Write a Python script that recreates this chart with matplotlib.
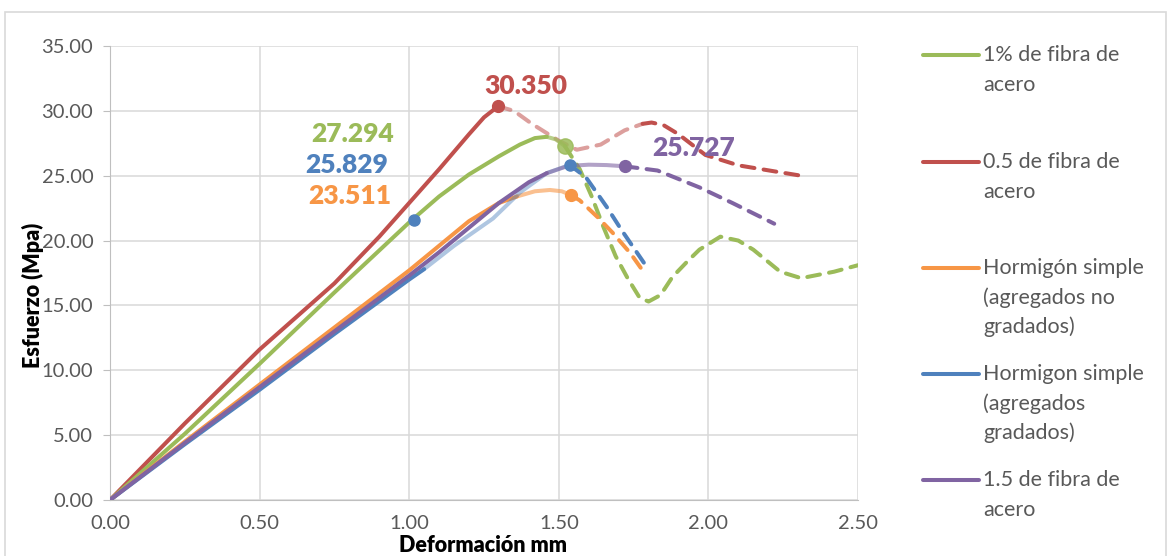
import matplotlib
matplotlib.use("Agg")
import matplotlib.pyplot as plt
from matplotlib.lines import Line2D
from matplotlib.patches import Rectangle
from matplotlib.ticker import MultipleLocator, FormatStrFormatter

plt.rcParams['font.family'] = ['Lato', 'DejaVu Sans']

# ---- datos ----
# 0.5 de fibra de acero (rojo)
rojo_x = [0, 0.25, 0.5, 0.75, 0.9, 1.0, 1.1, 1.2, 1.25, 1.297]
rojo_y = [0, 5.9, 11.6, 16.7, 20.3, 22.9, 25.5, 28.2, 29.5, 30.35]
rojo_cl_x = [1.297, 1.35, 1.41, 1.50, 1.56, 1.64, 1.72, 1.78]
rojo_cl_y = [30.35, 30.0, 29.0, 27.7, 27.0, 27.4, 28.5, 29.0]
rojo_d_x = [1.78, 1.81, 1.85, 1.90, 1.99, 2.10, 2.23, 2.31]
rojo_d_y = [29.0, 29.1, 28.9, 28.2, 26.6, 25.8, 25.3, 25.0]

# 1% de fibra de acero (verde)
verde_x = [0, 0.25, 0.5, 0.75, 1.0, 1.1, 1.2, 1.3, 1.37, 1.42, 1.46]
verde_y = [0, 5.1, 10.5, 16.0, 21.4, 23.4, 25.1, 26.5, 27.4, 27.9, 28.0]
verde_cl_x = [1.46, 1.49, 1.52]
verde_cl_y = [28.0, 27.8, 27.294]
verde_d_x = [1.52, 1.57, 1.61, 1.65, 1.69, 1.73, 1.77, 1.80, 1.84, 1.88,
             1.93, 1.97, 2.04, 2.10, 2.15, 2.24, 2.31, 2.42, 2.50]
verde_d_y = [27.294, 25.5, 23.4, 21.0, 18.8, 17.1, 15.6, 15.3, 15.8, 17.2,
             18.4, 19.3, 20.3, 20.0, 19.3, 17.6, 17.1, 17.6, 18.1]

# Hormigon simple agregados no gradados (naranja)
nar_x = [0, 0.25, 0.5, 0.75, 1.0, 1.1, 1.2, 1.3, 1.36]
nar_y = [0, 4.5, 8.9, 13.3, 17.7, 19.6, 21.5, 22.9, 23.4]
nar_cl_x = [1.36, 1.42, 1.47, 1.51, 1.54]
nar_cl_y = [23.4, 23.8, 23.9, 23.8, 23.511]
nar_d_x = [1.54, 1.57, 1.63, 1.68, 1.74, 1.78]
nar_d_y = [23.511, 23.1, 21.8, 20.6, 19.0, 17.7]

# Hormigon simple agregados gradados (azul)
azul_x = [0, 0.25, 0.5, 0.75, 1.0, 1.05]
azul_y = [0, 4.3, 8.5, 12.8, 17.0, 17.8]
azul_cl_x = [1.05, 1.15, 1.28, 1.37, 1.46, 1.536]
azul_cl_y = [17.8, 19.6, 21.7, 23.7, 25.2, 25.829]
azul_d_x = [1.536, 1.59, 1.66, 1.71, 1.79]
azul_d_y = [25.829, 24.9, 22.6, 20.8, 18.1]
azul_pt_x = [1.016, 1.536]
azul_pt_y = [21.6, 25.829]

# 1.5 de fibra de acero (morado)
mor_x = [0, 0.25, 0.5, 0.75, 1.0, 1.1, 1.2, 1.3, 1.4, 1.46]
mor_y = [0, 4.4, 8.7, 13.0, 17.3, 19.1, 21.0, 22.9, 24.5, 25.2]
mor_cl_x = [1.46, 1.53, 1.6, 1.66, 1.72]
mor_cl_y = [25.2, 25.75, 25.85, 25.82, 25.727]
mor_d_x = [1.72, 1.83, 1.97, 2.08, 2.22]
mor_d_y = [25.727, 25.4, 24.1, 22.9, 21.3]

# etiquetas de pico
pico_txt = ["30.350", "27.294", "25.829", "23.511", "25.727"]
pico_x = [1.39, 0.81, 0.79, 0.80, 1.95]
pico_y = [31.9, 28.2, 25.8, 23.4, 27.1]

series = ["1% de fibra de\nacero", "0.5 de fibra de\nacero",
          "Hormigón simple\n(agregados no\ngradados)",
          "Hormigon simple\n(agregados\ngradados)", "1.5 de fibra de\nacero"]

VERDE = "#9BBB59"
ROJO = "#C0504D"
NAR = "#F79646"
AZUL = "#4F81BD"
MOR = "#8064A2"
colores = [VERDE, ROJO, NAR, AZUL, MOR]

W, H = 1169, 556
fig = plt.figure(figsize=(W / 100, H / 100), dpi=100)
ax = fig.add_axes([110 / W, 1 - 500 / H, (858 - 110) / W, (500 - 46) / H])

lw = 2.9
dash = (3.2, 2.3)

def solido(x, y, c, a=1.0, z=3):
    ax.plot(x, y, color=c, lw=lw, alpha=a, solid_capstyle='round',
            solid_joinstyle='round', zorder=z)

def rayado(x, y, c, a=1.0, z=3):
    ax.plot(x, y, color=c, lw=lw, alpha=a, ls=(0, dash),
            dash_capstyle='round', dash_joinstyle='round', zorder=z)

# rojo
solido(rojo_x, rojo_y, ROJO)
rayado(rojo_cl_x, rojo_cl_y, ROJO, 0.55)
rayado(rojo_d_x, rojo_d_y, ROJO)
# verde
solido(verde_x, verde_y, VERDE)
solido(verde_cl_x, verde_cl_y, VERDE, 0.7)
rayado(verde_d_x, verde_d_y, VERDE)
# naranja
solido(nar_x, nar_y, NAR)
solido(nar_cl_x, nar_cl_y, NAR, 0.6)
rayado(nar_d_x, nar_d_y, NAR)
# azul
solido(azul_x, azul_y, AZUL)
solido(azul_cl_x, azul_cl_y, AZUL, 0.45)
rayado(azul_d_x, azul_d_y, AZUL)
# morado
solido(mor_x, mor_y, MOR)
solido(mor_cl_x, mor_cl_y, MOR, 0.6)
rayado(mor_d_x, mor_d_y, MOR)

# marcadores
ax.plot([rojo_x[-1]], [rojo_y[-1]], 'o', color=ROJO, ms=8.5, zorder=5)
ax.plot([verde_cl_x[-1]], [verde_cl_y[-1]], 'o', color=VERDE, ms=11, alpha=0.85, zorder=5)
ax.plot(azul_pt_x, azul_pt_y, 'o', color=AZUL, ms=8, zorder=5)
ax.plot([nar_cl_x[-1]], [nar_cl_y[-1]], 'o', color=NAR, ms=8.5, zorder=5)
ax.plot([mor_cl_x[-1]], [mor_cl_y[-1]], 'o', color=MOR, ms=8.5, zorder=5)

for t, x, y, c in zip(pico_txt, pico_x, pico_y, [ROJO, VERDE, AZUL, NAR, MOR]):
    ax.text(x, y, t, color=c, fontsize=19, fontweight='heavy',
            ha='center', va='center', zorder=6)

ax.set_xlim(0, 2.5)
ax.set_ylim(0, 35)
ax.xaxis.set_major_locator(MultipleLocator(0.5))
ax.yaxis.set_major_locator(MultipleLocator(5))
ax.xaxis.set_major_formatter(FormatStrFormatter('%.2f'))
ax.yaxis.set_major_formatter(FormatStrFormatter('%.2f'))
ax.grid(True, color='#D9D9D9', lw=1.1)
ax.set_axisbelow(True)
for s in ['top', 'right']:
    ax.spines[s].set_visible(False)
ax.spines['left'].set_color('#BFBFBF')
ax.spines['bottom'].set_color('#BFBFBF')
ax.tick_params(axis='both', colors='#BFBFBF', labelcolor='#595959',
               labelsize=14.5, length=5)
ax.tick_params(axis='x', length=0, pad=11)
ax.tick_params(axis='y', pad=7)

fig.text(33 / W, 1 - 295 / H, "Esfuerzo (Mpa)", rotation=90, fontsize=15.5,
         fontweight='heavy', ha='center', va='center', color='black')
fig.text(483 / W, 1 - 545 / H, "Deformación mm", fontsize=15.5,
         fontweight='heavy', ha='center', va='center', color='black')

# leyenda manual
leg_y = [55, 162, 268, 374, 480]
for lab, c, y in zip(series, colores, leg_y):
    fig.add_artist(Line2D([923 / W, 979 / W], [1 - y / H, 1 - y / H],
                          color=c, lw=lw, solid_capstyle='round'))
    for i, linea in enumerate(lab.split("\n")):
        fig.text(983 / W, 1 - (y + i * 29.5) / H, linea, fontsize=15.5,
                 color='#595959', ha='left', va='center')

# borde del area del grafico
fig.add_artist(Rectangle((5 / W, -0.1), (1166 - 5) / W, 1 - 12 / H + 0.1,
                         transform=fig.transFigure, fill=False,
                         edgecolor='#D9D9D9', lw=1.2))

fig.savefig("out.png", dpi=100)
